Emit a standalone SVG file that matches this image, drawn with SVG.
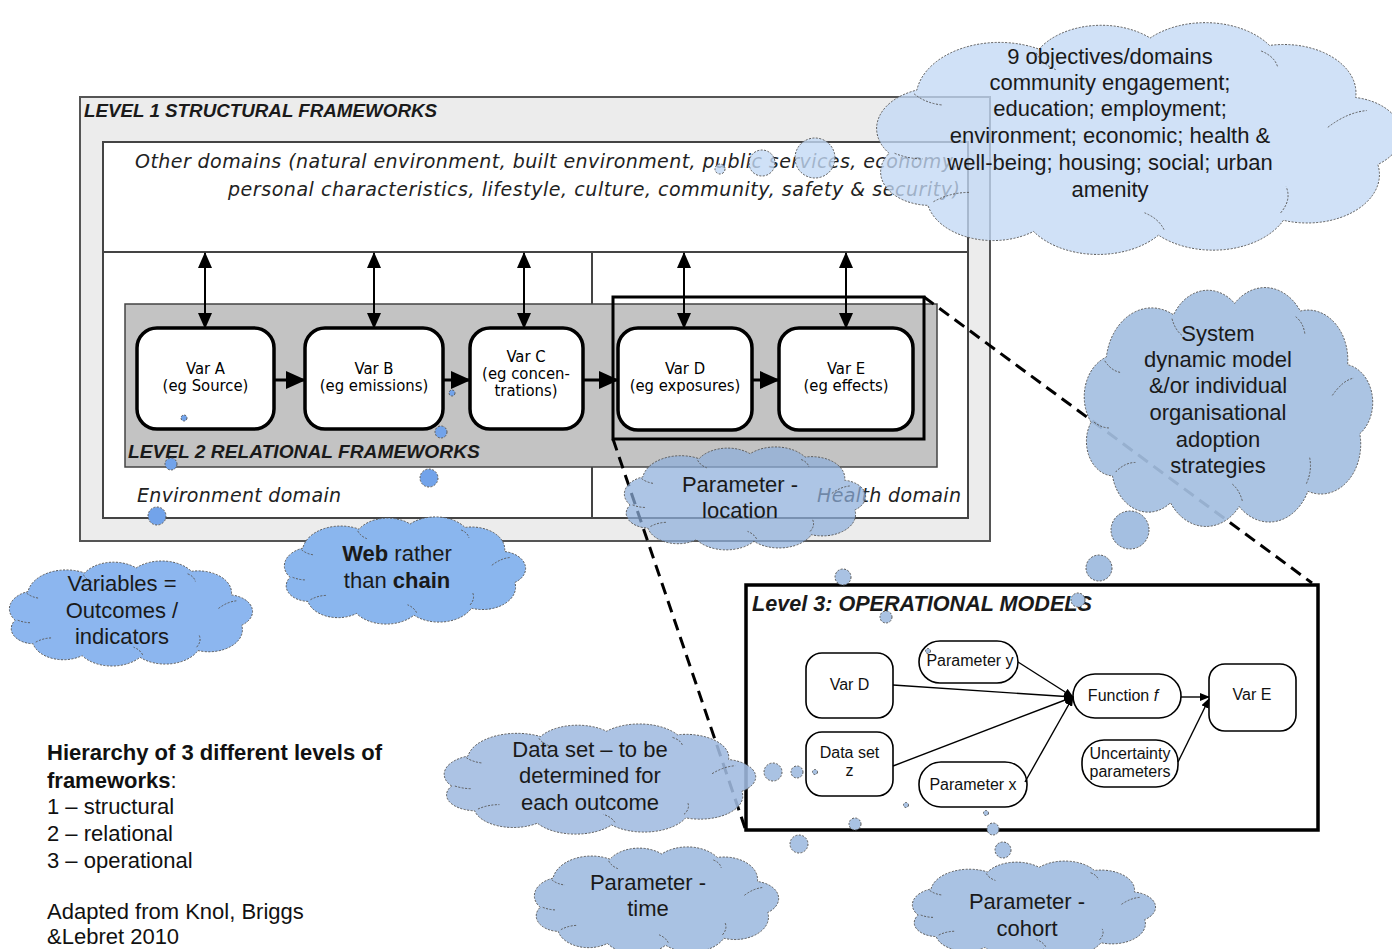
<svg xmlns="http://www.w3.org/2000/svg" xmlns:xlink="http://www.w3.org/1999/xlink" width="1392" height="949" viewBox="0 0 1392 949">
<style>
.title{font-family:"Liberation Sans",Arial,sans-serif;font-weight:bold;font-style:italic;fill:#1a1a1a}
.dom{font-family:"DejaVu Sans",Verdana,sans-serif;font-style:italic;fill:#222;font-size:19px}
.var{font-family:"DejaVu Sans Condensed","DejaVu Sans",sans-serif;font-stretch:condensed;font-size:16.5px;fill:#000;text-anchor:middle}
.op{font-family:"Liberation Sans",Arial,sans-serif;font-size:16px;fill:#111;text-anchor:middle}
.varbox{fill:#fff;stroke:#000;stroke-width:3.5}
.opbox{fill:#fff;stroke:#000;stroke-width:1.6}
.ct{font-family:"Liberation Sans",Arial,sans-serif;font-size:22px;fill:#1a1a1a;text-anchor:middle}
.note{font-family:"Liberation Sans",Arial,sans-serif;font-size:22px;fill:#111}
.cloud{stroke:#5a5a5a;stroke-width:1;stroke-dasharray:2 1.5}
.bub{stroke:#5a5a5a;stroke-width:1;stroke-dasharray:2 1.5}
.dash{fill:none;stroke:#000;stroke-width:3;stroke-dasharray:12 7}
.thin{fill:none;stroke:#000;stroke-width:1.4}
</style>
<defs>
<marker id="ah" viewBox="0 0 16 14" refX="15" refY="7" markerWidth="16" markerHeight="14" markerUnits="userSpaceOnUse" orient="auto-start-reverse"><path d="M0,0 L16,7 L0,14 Z" fill="#000"/></marker>
<marker id="ahb" viewBox="0 0 20 18" refX="19" refY="9" markerWidth="20" markerHeight="18" markerUnits="userSpaceOnUse" orient="auto"><path d="M0,0 L20,9 L0,18 Z" fill="#000"/></marker>
<marker id="ahs" viewBox="0 0 10 8" refX="9" refY="4" markerWidth="10" markerHeight="8" markerUnits="userSpaceOnUse" orient="auto"><path d="M0,0 L10,4 L0,8 Z" fill="#000"/></marker>
<path id="cloudShape" vector-effect="non-scaling-stroke" d="M18,72 A22,22 0 0 1 28,38 A30,30 0 0 1 72,16 A26,26 0 0 1 112,10 A28,28 0 0 1 155,14 A26,26 0 0 1 186,42 A20,20 0 0 1 194,78 A26,26 0 0 1 160,108 A28,28 0 0 1 115,116 A28,28 0 0 1 70,114 A24,24 0 0 1 32,100 A18,18 0 0 1 18,72 Z"/>
<path id="cloudInner" vector-effect="non-scaling-stroke" fill="none" d="M27,40 Q31,45 37,46 M71,18 Q73,24 78,27 M152,17 Q157,20 158,26 M176,58 Q183,50 190,49 M159,104 Q163,97 161,90 M117,113 Q115,107 110,104 M34,98 Q40,93 47,93 M20,72 Q25,75 30,75"/>
</defs>

<!-- Level 1 -->
<g id="level1">
<rect x="80" y="97" width="910" height="444" fill="#ececec" stroke="#555" stroke-width="2"/>
<text class="title" x="84" y="117" font-size="18.8">LEVEL 1 STRUCTURAL FRAMEWORKS</text>
<rect x="103" y="142" width="865" height="376" fill="#fff" stroke="#444" stroke-width="2"/>
<line x1="103" y1="252" x2="968" y2="252" stroke="#444" stroke-width="2"/>
<line x1="592" y1="252" x2="592" y2="518" stroke="#444" stroke-width="2"/>
<text class="dom" x="135" y="168" textLength="823" lengthAdjust="spacing">Other domains (natural environment, built environment, public services, economy,</text>
<text class="dom" x="228" y="196" textLength="732" lengthAdjust="spacing">personal characteristics, lifestyle, culture, community, safety &amp; security)</text>
<text id="env-domain" class="dom" x="137" y="502" textLength="204" lengthAdjust="spacing">Environment domain</text>
<text id="health-domain" class="dom" x="817" y="502" textLength="144" lengthAdjust="spacing">Health domain</text>
</g>

<!-- Level 2 -->
<g id="level2">
<rect x="125" y="304" width="812" height="163" fill="#c3c3c3" stroke="#444" stroke-width="1.5"/>
<text class="title" x="128" y="458" font-size="19.2">LEVEL 2 RELATIONAL FRAMEWORKS</text>
</g>

<g id="varA"><rect class="varbox" x="137" y="328" width="137" height="101" rx="20"/><text class="var" x="205.5" y="374">Var A</text><text class="var" x="205.5" y="391">(eg Source)</text></g>
<g id="varB"><rect class="varbox" x="305" y="328" width="138" height="101" rx="20"/><text class="var" x="374" y="374">Var B</text><text class="var" x="374" y="391">(eg emissions)</text></g>
<g id="varC"><rect class="varbox" x="470" y="328" width="113" height="101" rx="20"/><text class="var" x="526" y="362" font-size="14.5">Var C</text><text class="var" x="526" y="379" font-size="14.5">(eg concen-</text><text class="var" x="526" y="396" font-size="14.5">trations)</text></g>
<g id="varD"><rect class="varbox" x="618" y="328" width="134" height="102" rx="20"/><text class="var" x="685" y="374">Var D</text><text class="var" x="685" y="391">(eg exposures)</text></g>
<g id="varE"><rect class="varbox" x="779" y="328" width="134" height="102" rx="20"/><text class="var" x="846" y="374">Var E</text><text class="var" x="846" y="391">(eg effects)</text></g>

<g id="frameDE"><rect x="613" y="297" width="311" height="142" fill="none" stroke="#000" stroke-width="3"/></g>

<!-- Level 3 -->
<g id="level3">
<rect x="746" y="585" width="572" height="245" fill="#fff" stroke="#000" stroke-width="3.5"/>
<text class="title" x="752" y="611" font-size="21.6">Level 3: OPERATIONAL MODELS</text>
</g>
<g id="op-varD"><rect class="opbox" x="806" y="653" width="87" height="65" rx="16"/><text class="op" x="849.5" y="690">Var D</text></g>
<g id="op-dataset"><rect class="opbox" x="806" y="732" width="87" height="64" rx="16"/><text class="op" x="849.5" y="758">Data set</text><text class="op" x="849.5" y="776">z</text></g>
<g id="op-paramy"><rect class="opbox" x="919" y="641" width="99" height="42" rx="21"/><text class="op" x="970" y="666">Parameter y</text></g>
<g id="op-paramx"><rect class="opbox" x="919" y="762" width="108" height="45" rx="22"/><text class="op" x="973" y="790">Parameter x</text></g>
<g id="op-function"><rect class="opbox" x="1073" y="674" width="108" height="44" rx="22"/><text class="op" x="1123" y="701">Function <tspan font-style="italic">f</tspan></text></g>
<g id="op-varE"><rect class="opbox" x="1209" y="664" width="87" height="67" rx="16"/><text class="op" x="1252" y="700">Var E</text></g>
<g id="op-uncert"><rect class="opbox" x="1082" y="740" width="96" height="47" rx="22"/><text class="op" x="1130" y="759">Uncertainty</text><text class="op" x="1130" y="777">parameters</text></g>

<!-- Connectors -->
<g id="connectors">
<line x1="205" y1="253" x2="205" y2="328" stroke="#000" stroke-width="2" marker-start="url(#ah)" marker-end="url(#ah)"/>
<line x1="374" y1="253" x2="374" y2="328" stroke="#000" stroke-width="2" marker-start="url(#ah)" marker-end="url(#ah)"/>
<line x1="524" y1="253" x2="524" y2="328" stroke="#000" stroke-width="2" marker-start="url(#ah)" marker-end="url(#ah)"/>
<line x1="684" y1="253" x2="684" y2="328" stroke="#000" stroke-width="2" marker-start="url(#ah)" marker-end="url(#ah)"/>
<line x1="846" y1="253" x2="846" y2="328" stroke="#000" stroke-width="2" marker-start="url(#ah)" marker-end="url(#ah)"/>
<line x1="275" y1="380" x2="305" y2="380" stroke="#000" stroke-width="3" marker-end="url(#ahb)"/>
<line x1="444" y1="380" x2="470" y2="380" stroke="#000" stroke-width="3" marker-end="url(#ahb)"/>
<line x1="584" y1="380" x2="618" y2="380" stroke="#000" stroke-width="3" marker-end="url(#ahb)"/>
<line x1="753" y1="380" x2="779" y2="380" stroke="#000" stroke-width="3" marker-end="url(#ahb)"/>
<line class="thin" x1="893" y1="685" x2="1073" y2="697" marker-end="url(#ahs)"/>
<line class="thin" x1="893" y1="766" x2="1073" y2="697" marker-end="url(#ahs)"/>
<line class="thin" x1="1018" y1="662" x2="1073" y2="697" marker-end="url(#ahs)"/>
<line class="thin" x1="1025" y1="782" x2="1073" y2="697" marker-end="url(#ahs)"/>
<line class="thin" x1="1181" y1="697" x2="1209" y2="697" marker-end="url(#ahs)"/>
<line class="thin" x1="1178" y1="762" x2="1209" y2="699" marker-end="url(#ahs)"/>
<line class="dash" x1="924" y1="297" x2="1312" y2="583"/>
<line class="dash" x1="613" y1="439" x2="745" y2="828"/>
</g>

<!-- Clouds -->
<g id="cloud-objectives">
<use xlink:href="#cloudShape" class="cloud" fill="#c3d9f5" fill-opacity="0.78" transform="translate(839.1,19.4) scale(2.777,1.86)"/>
<use xlink:href="#cloudInner" class="cloud" transform="translate(839.1,19.4) scale(2.777,1.86)"/>
<text class="ct" x="1110" y="64">9 objectives/domains</text>
<text class="ct" x="1110" y="90">community engagement;</text>
<text class="ct" x="1110" y="116">education; employment;</text>
<text class="ct" x="1110" y="143">environment; economic; health &amp;</text>
<text class="ct" x="1110" y="170">well-being; housing; social; urban</text>
<text class="ct" x="1110" y="197">amenity</text>
</g>
<g id="bubbles-objectives">
<circle class="bub" cx="720" cy="169" r="5" fill="#c3d9f5" fill-opacity="0.8"/>
<circle class="bub" cx="762" cy="163" r="13" fill="#c3d9f5" fill-opacity="0.8"/>
<circle class="bub" cx="815" cy="158" r="20" fill="#c3d9f5" fill-opacity="0.8"/>
</g>

<g id="cloud-system">
<use xlink:href="#cloudShape" class="cloud" fill="#a4bfe1" fill-opacity="0.92" transform="translate(1063.6,284.2) scale(1.527,1.917)"/>
<use xlink:href="#cloudInner" class="cloud" transform="translate(1063.6,284.2) scale(1.527,1.917)"/>
<text class="ct" x="1218" y="341">System</text>
<text class="ct" x="1218" y="367">dynamic model</text>
<text class="ct" x="1218" y="393">&amp;/or individual</text>
<text class="ct" x="1218" y="420">organisational</text>
<text class="ct" x="1218" y="447">adoption</text>
<text class="ct" x="1218" y="473">strategies</text>
</g>
<g id="bubbles-system">
<circle class="bub" cx="1130" cy="530" r="19" fill="#a4bfe1"/>
<circle class="bub" cx="1099" cy="568" r="13" fill="#a4bfe1"/>
<circle class="bub" cx="1078" cy="600" r="7" fill="#a4bfe1"/>
</g>

<g id="cloud-location">
<use xlink:href="#cloudShape" class="cloud" fill="#8eaedb" fill-opacity="0.72" transform="translate(607.1,445.5) scale(1.277,0.826)"/>
<use xlink:href="#cloudInner" class="cloud" transform="translate(607.1,445.5) scale(1.277,0.826)"/>
<text class="ct" x="740" y="492">Parameter -</text>
<text class="ct" x="740" y="518">location</text>
</g>
<g id="bubbles-location">
<circle class="bub" cx="843" cy="577" r="8" fill="#a9c2e3"/>
<circle class="bub" cx="886" cy="617" r="6" fill="#a9c2e3"/>
<circle class="bub" cx="928" cy="651" r="2.5" fill="#a9c2e3"/>
</g>

<g id="cloud-web">
<use xlink:href="#cloudShape" class="cloud" fill="#8ab6ee" transform="translate(267.1,515.4) scale(1.277,0.86)"/>
<use xlink:href="#cloudInner" class="cloud" transform="translate(267.1,515.4) scale(1.277,0.86)"/>
<text class="ct" x="397" y="561"><tspan font-weight="bold">Web</tspan> rather</text>
<text class="ct" x="397" y="588">than <tspan font-weight="bold">chain</tspan></text>
</g>
<g id="bubbles-web">
<circle class="bub" cx="184" cy="418" r="3" fill="#72a3ea"/>
<circle class="bub" cx="452" cy="393" r="3" fill="#72a3ea"/>
<circle class="bub" cx="441" cy="432" r="6" fill="#72a3ea"/>
<circle class="bub" cx="171" cy="464" r="6" fill="#72a3ea"/>
<circle class="bub" cx="429" cy="478" r="9" fill="#72a3ea"/>
<circle class="bub" cx="157" cy="516" r="9" fill="#72a3ea"/>
</g>

<g id="cloud-variables">
<use xlink:href="#cloudShape" class="cloud" fill="#8cb6ef" transform="translate(-8,559.5) scale(1.287,0.843)"/>
<use xlink:href="#cloudInner" class="cloud" transform="translate(-8,559.5) scale(1.287,0.843)"/>
<text class="ct" x="122" y="591">Variables =</text>
<text class="ct" x="122" y="618">Outcomes /</text>
<text class="ct" x="122" y="644">indicators</text>
</g>

<g id="cloud-dataset">
<use xlink:href="#cloudShape" class="cloud" fill="#a1bbe0" fill-opacity="0.88" transform="translate(421.9,722.4) scale(1.649,0.884)"/>
<use xlink:href="#cloudInner" class="cloud" transform="translate(421.9,722.4) scale(1.649,0.884)"/>
<text class="ct" x="590" y="757">Data set – to be</text>
<text class="ct" x="590" y="783">determined for</text>
<text class="ct" x="590" y="810">each outcome</text>
</g>
<g id="bubbles-dataset">
<circle class="bub" cx="773" cy="772" r="9" fill="#a9c2e3"/>
<circle class="bub" cx="797" cy="772" r="6" fill="#a9c2e3"/>
<circle class="bub" cx="815" cy="772" r="2.5" fill="#a9c2e3"/>
</g>

<g id="cloud-time">
<use xlink:href="#cloudShape" class="cloud" fill="#a9c2e3" transform="translate(516.9,845.4) scale(1.293,0.86)"/>
<use xlink:href="#cloudInner" class="cloud" transform="translate(516.9,845.4) scale(1.293,0.86)"/>
<text class="ct" x="648" y="890">Parameter -</text>
<text class="ct" x="648" y="916">time</text>
</g>
<g id="bubbles-time">
<circle class="bub" cx="906" cy="805" r="2.5" fill="#a9c2e3"/>
<circle class="bub" cx="855" cy="824" r="6" fill="#a9c2e3"/>
<circle class="bub" cx="799" cy="844" r="9" fill="#a9c2e3"/>
</g>

<g id="cloud-cohort">
<use xlink:href="#cloudShape" class="cloud" fill="#a9c2e3" transform="translate(895,859.7) scale(1.287,0.769)"/>
<use xlink:href="#cloudInner" class="cloud" transform="translate(895,859.7) scale(1.287,0.769)"/>
<text class="ct" x="1027" y="909">Parameter -</text>
<text class="ct" x="1027" y="936">cohort</text>
</g>
<g id="bubbles-cohort">
<circle class="bub" cx="986" cy="813" r="2.5" fill="#a9c2e3"/>
<circle class="bub" cx="993" cy="829" r="6" fill="#a9c2e3"/>
<circle class="bub" cx="1003" cy="850" r="8" fill="#a9c2e3"/>
</g>

<!-- Notes -->
<g id="legend">
<text class="note" x="47" y="760" font-weight="bold">Hierarchy of 3 different levels of</text>
<text class="note" x="47" y="788"><tspan font-weight="bold">frameworks</tspan>:</text>
<text class="note" x="47" y="814">1 – structural</text>
<text class="note" x="47" y="841">2 – relational</text>
<text class="note" x="47" y="868">3 – operational</text>
<text class="note" x="47" y="919">Adapted from Knol, Briggs</text>
<text class="note" x="47" y="944">&amp;Lebret 2010</text>
</g>
</svg>
